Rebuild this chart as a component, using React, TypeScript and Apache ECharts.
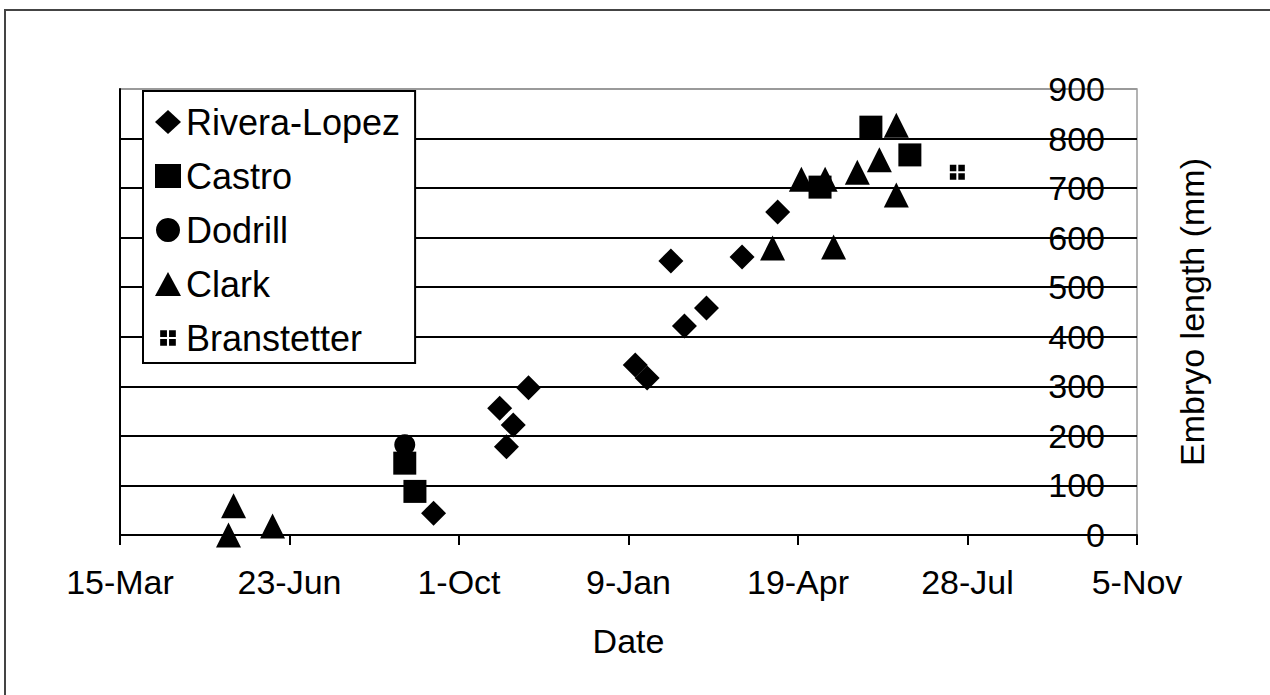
import React, { useEffect, useRef } from "react";
import * as echarts from "echarts";

// x values: days after 15-Mar (tick every 100 days)
const xTickLabels = ["15-Mar", "23-Jun", "1-Oct", "9-Jan", "19-Apr", "28-Jul", "5-Nov"];

const riveraDays = [185, 224, 228, 232, 241, 304, 311, 325, 333, 346, 367, 388];
const riveraLen = [44, 256, 178, 222, 297, 343, 317, 553, 422, 458, 561, 652];

const castroDays = [168, 174, 413, 443, 466];
const castroLen = [145, 88, 702, 823, 767];

const dodrillDays = [168];
const dodrillLen = [182];

const clarkDays = [64, 67, 90, 385, 402, 416, 421, 435, 448, 458, 458];
const clarkLen = [0, 59, 18, 579, 718, 718, 581, 732, 757, 827, 686];

const branDays = [494];
const branLen = [732];

const FONT = "'Liberation Sans', Arial, sans-serif";

const branSymbol =
  "path://M0,0h6.5v6.5h-6.5zM8.5,0h6.5v6.5h-6.5zM0,8.5h6.5v6.5h-6.5zM8.5,8.5h6.5v6.5h-6.5z";
const branLegendIcon =
  "path://M-4,-4M19,19M0,0h6.5v6.5h-6.5zM8.5,0h6.5v6.5h-6.5zM0,8.5h6.5v6.5h-6.5zM8.5,8.5h6.5v6.5h-6.5z";

function zip(xs: number[], ys: number[]) {
  return xs.map((x, i) => [x, ys[i]]);
}

export default function App() {
  const ref = useRef<HTMLDivElement>(null);
  useEffect(() => {
    document.body.style.margin = "0";
    const chart = echarts.init(ref.current!, null, { renderer: "svg" });
    const splitColors = Array.from({ length: 10 }, (_, i) => (i === 9 ? "#9a9a9a" : "#000"));
    chart.setOption({
      animation: false,
      backgroundColor: "#fff",
      textStyle: { fontFamily: FONT },
      grid: {
        left: 120,
        right: 133,
        top: 89,
        bottom: 160,
        show: true,
        borderColor: "#9a9a9a",
        borderWidth: 1.5,
        outerBoundsMode: "none",
        containLabel: false,
      },
      graphic: [
        {
          type: "rect",
          shape: { x: 5, y: 10, width: 1400, height: 800 },
          style: { fill: "none", stroke: "#444", lineWidth: 2 },
          silent: true,
        },
      ],
      legend: {
        orient: "vertical",
        left: 143,
        top: 91,
        padding: [13, 15, 7, 12],
        itemGap: 18,
        itemWidth: 26,
        itemHeight: 24,
        backgroundColor: "#fff",
        borderColor: "#000",
        borderWidth: 2,
        borderRadius: 0,
        textStyle: { fontFamily: FONT, fontSize: 36, lineHeight: 36, color: "#000" },
        data: [
          { name: "Rivera-Lopez", icon: "diamond" },
          { name: "Castro", icon: "rect" },
          { name: "Dodrill", icon: "circle" },
          { name: "Clark", icon: "triangle" },
          { name: "Branstetter", icon: branLegendIcon },
        ],
      },
      xAxis: {
        type: "value",
        min: 0,
        max: 600,
        interval: 100,
        name: "Date",
        nameLocation: "middle",
        nameGap: 89,
        nameTextStyle: { fontFamily: FONT, fontSize: 34, color: "#000" },
        axisLine: { show: true, onZero: false, lineStyle: { color: "#000", width: 2 } },
        axisTick: { show: true, length: 10, lineStyle: { color: "#000", width: 2 } },
        axisLabel: {
          margin: 30,
          fontFamily: FONT,
          fontSize: 34,
          color: "#000",
          formatter: (v: number) => xTickLabels[Math.round(v / 100)] ?? "",
        },
        splitLine: { show: false },
      },
      yAxis: {
        type: "value",
        position: "right",
        min: 0,
        max: 900,
        interval: 100,
        name: "Embryo length (mm)",
        nameLocation: "middle",
        nameRotate: 90,
        nameGap: 38,
        nameTextStyle: { fontFamily: FONT, fontSize: 34, color: "#000" },
        axisLine: { show: true, lineStyle: { color: "#000", width: 2 } },
        axisTick: { show: false },
        axisLabel: { inside: true, margin: 32, fontFamily: FONT, fontSize: 34, color: "#000" },
        splitLine: { show: true, lineStyle: { color: splitColors, width: 2 } },
      },
      series: [
        {
          name: "Rivera-Lopez",
          type: "scatter",
          symbol: "diamond",
          symbolSize: 25,
          itemStyle: { color: "#000", opacity: 1 },
          data: zip(riveraDays, riveraLen),
        },
        {
          name: "Castro",
          type: "scatter",
          symbol: "rect",
          symbolSize: 23,
          itemStyle: { color: "#000", opacity: 1 },
          data: zip(castroDays, castroLen),
        },
        {
          name: "Dodrill",
          type: "scatter",
          symbol: "circle",
          symbolSize: 21,
          itemStyle: { color: "#000", opacity: 1 },
          data: zip(dodrillDays, dodrillLen),
        },
        {
          name: "Clark",
          type: "scatter",
          symbol: "triangle",
          symbolSize: 25,
          itemStyle: { color: "#000", opacity: 1 },
          data: zip(clarkDays, clarkLen),
        },
        {
          name: "Branstetter",
          type: "scatter",
          symbol: branSymbol,
          symbolSize: 15,
          itemStyle: { color: "#000", opacity: 1 },
          data: zip(branDays, branLen),
        },
      ],
    });
    return () => chart.dispose();
  }, []);
  return <div ref={ref} style={{ width: 1270, height: 695 }} />;
}
